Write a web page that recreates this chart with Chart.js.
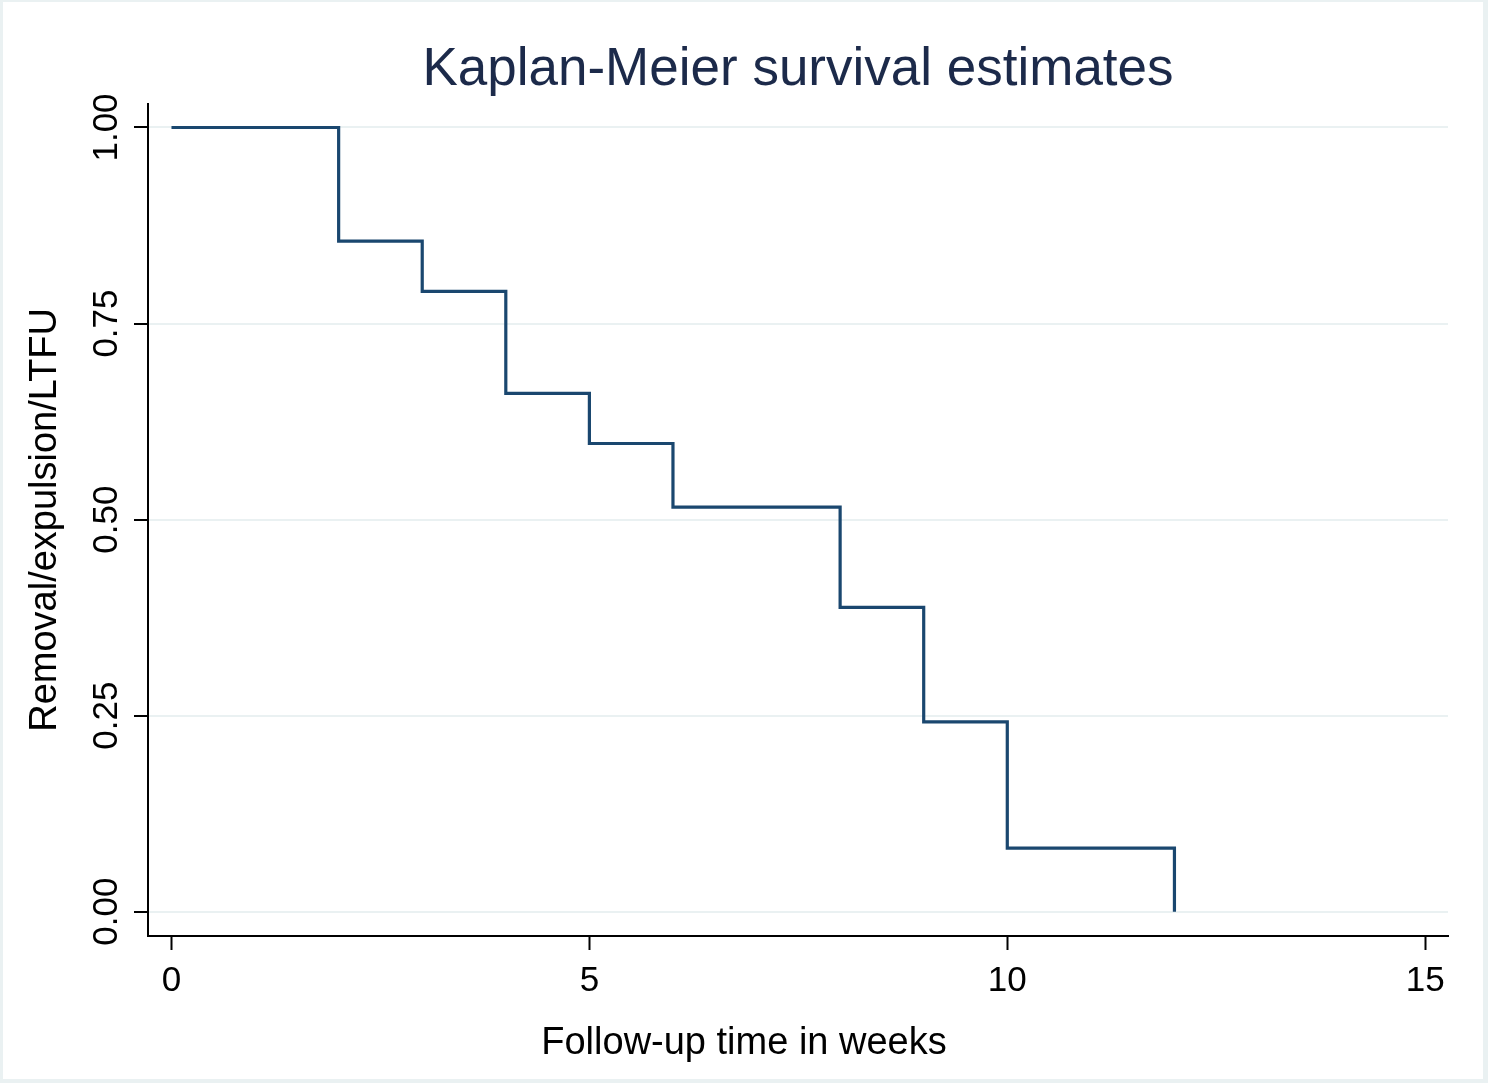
<!DOCTYPE html>
<html>
<head>
<meta charset="utf-8">
<title>Kaplan-Meier survival estimates</title>
<script src="https://cdn.jsdelivr.net/npm/chart.js@4.4.1/dist/chart.umd.min.js"></script>
<style>
    html, body { margin: 0; padding: 0; background: #eaf1f2; }
    #wrap { width: 1488px; height: 1083px; position: relative; }
</style>
</head>
<body>
<div id="wrap"><canvas id="kmChart"></canvas></div>
<script>
// ============================================================
// DATA — step points of the survival curve
// ============================================================
const weeks = [0, 2, 3, 4, 5, 6, 8, 9, 10, 12];
const survival = [1.00, 0.855, 0.791, 0.661, 0.597, 0.516, 0.388, 0.242, 0.081, 0.00];

const xTicks = [0, 5, 10, 15];
const yTicks = [0, 0.25, 0.5, 0.75, 1];

const FONT = "'Liberation Sans', Arial, sans-serif";
const LINE_COLOR = '#1a476f';
const GRID_COLOR = '#eaf1f2';

// frame + white page behind the plot
const framePlugin = {
    id: 'frame',
    beforeDraw: function (chart) {
        const ctx = chart.ctx;
        ctx.save();
        ctx.fillStyle = '#eaf1f2';
        ctx.fillRect(0, 0, chart.width, chart.height);
        ctx.fillStyle = '#ffffff';
        ctx.fillRect(3, 2, chart.width - 8, chart.height - 6);
        ctx.restore();
    }
};

// y tick labels are rotated (Stata style), drawn from the y scale
const yLabelPlugin = {
    id: 'yLabels',
    afterDraw: function (chart) {
        const ctx = chart.ctx;
        const y = chart.scales.y;
        ctx.save();
        ctx.font = '35px ' + FONT;
        ctx.fillStyle = '#000000';
        ctx.textAlign = 'center';
        ctx.textBaseline = 'alphabetic';
        y.ticks.forEach(function (t) {
            ctx.save();
            ctx.translate(117, y.getPixelForValue(t.value));
            ctx.rotate(-Math.PI / 2);
            ctx.fillText(t.value.toFixed(2), 0, 0);
            ctx.restore();
        });
        ctx.restore();
    }
};

const points = weeks.map(function (w, i) { return { x: w, y: survival[i] }; });

new Chart(document.getElementById('kmChart'), {
    type: 'line',
    data: {
        datasets: [{
            data: points,
            borderColor: LINE_COLOR,
            borderWidth: 3.2,
            stepped: 'before',
            pointRadius: 0,
            fill: false,
            borderCapStyle: 'butt',
            borderJoinStyle: 'miter'
        }]
    },
    options: {
        responsive: true,
        maintainAspectRatio: false,
        animation: false,
        devicePixelRatio: 1,
        layout: { padding: 0 },
        plugins: {
            legend: { display: false },
            tooltip: { enabled: false },
            title: {
                display: true,
                text: 'Kaplan-Meier survival estimates',
                fullSize: false,
                color: '#1c2a4a',
                font: { family: FONT, size: 53, weight: 'normal', lineHeight: 1.2 },
                padding: { top: 38.2, bottom: 2 }
            },
            subtitle: {
                display: true,
                position: 'bottom',
                fullSize: true,
                text: 'Follow-up time in weeks',
                color: '#000000',
                font: { family: FONT, size: 38, weight: 'normal', lineHeight: 1.2 },
                padding: { top: 0, bottom: 17 }
            }
        },
        scales: {
            x: {
                type: 'linear',
                min: -0.281,
                max: 15.273,
                afterBuildTicks: function (s) { s.ticks = xTicks.map(function (v) { return { value: v }; }); },
                afterFit: function (s) { s.height = 84.4; },
                grid: {
                    drawOnChartArea: false,
                    drawTicks: true,
                    tickLength: 14,
                    tickColor: '#000000',
                    tickWidth: 2
                },
                border: { color: '#000000', width: 2 },
                ticks: {
                    color: '#000000',
                    padding: 10,
                    maxRotation: 0,
                    font: { family: FONT, size: 35 }
                }
            },
            y: {
                type: 'linear',
                min: -0.031,
                max: 1.0302,
                afterBuildTicks: function (s) { s.ticks = yTicks.map(function (v) { return { value: v }; }); },
                afterFit: function (s) { s.width = 148; },
                grid: {
                    color: GRID_COLOR,
                    lineWidth: 2,
                    drawTicks: true,
                    tickLength: 14,
                    tickColor: '#000000',
                    tickWidth: 2
                },
                border: { color: '#000000', width: 2 },
                ticks: { display: false },
                title: {
                    display: true,
                    text: 'Removal/expulsion/LTFU',
                    color: '#000000',
                    font: { family: FONT, size: 38, weight: 'normal', lineHeight: 1.2 },
                    padding: { top: 23, bottom: 0 }
                }
            },
            // empty right margin so the bottom title centres on the page
            margin: {
                type: 'linear',
                position: 'right',
                afterFit: function (s) { s.width = 40; },
                grid: { display: false, drawTicks: false },
                border: { display: false },
                ticks: { display: false }
            }
        }
    },
    plugins: [framePlugin, yLabelPlugin]
});
</script>
</body>
</html>
